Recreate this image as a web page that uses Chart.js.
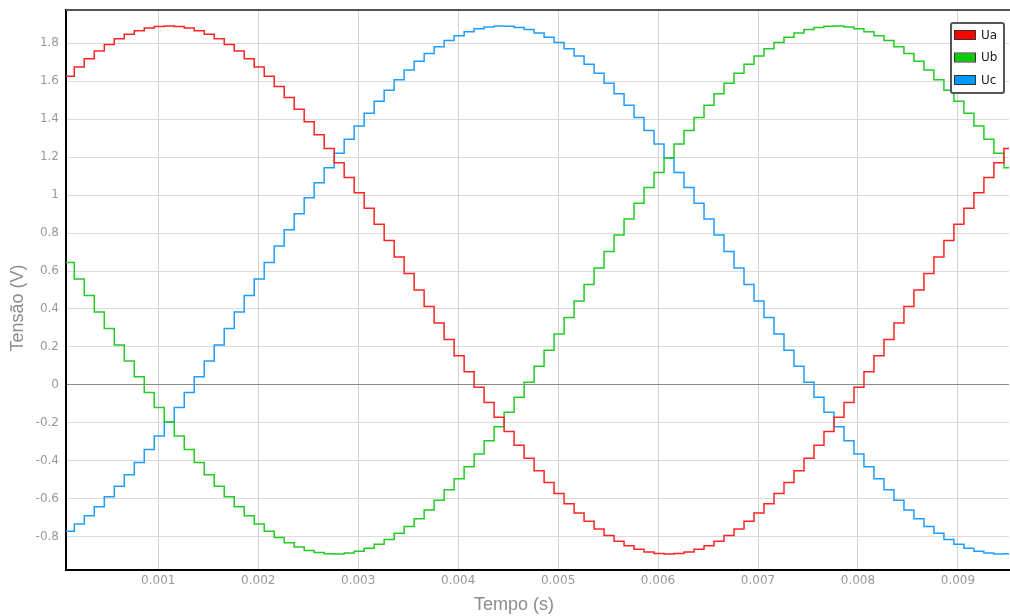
<!DOCTYPE html>
<html>
<head>
<meta charset="utf-8">
<script src="https://cdn.jsdelivr.net/npm/chart.js@4.4.1/dist/chart.umd.min.js"></script>
<style>
  html, body { margin: 0; padding: 0; background: #fff; }
  #wrap { width: 1010px; height: 616px; }
</style>
</head>
<body>
<div id="wrap"><canvas id="voltageChart" width="1010" height="616"></canvas></div>
<script>
// sample times (s), one per step
const times = [
  0.00006, 0.00016, 0.00026, 0.00036, 0.00046, 0.00056, 0.00066, 0.00076, 0.00086, 0.00096,
  0.00106, 0.00116, 0.00126, 0.00136, 0.00146, 0.00156, 0.00166, 0.00176, 0.00186, 0.00196,
  0.00206, 0.00216, 0.00226, 0.00236, 0.00246, 0.00256, 0.00266, 0.00276, 0.00286, 0.00296,
  0.00306, 0.00316, 0.00326, 0.00336, 0.00346, 0.00356, 0.00366, 0.00376, 0.00386, 0.00396,
  0.00406, 0.00416, 0.00426, 0.00436, 0.00446, 0.00456, 0.00466, 0.00476, 0.00486, 0.00496,
  0.00506, 0.00516, 0.00526, 0.00536, 0.00546, 0.00556, 0.00566, 0.00576, 0.00586, 0.00596,
  0.00606, 0.00616, 0.00626, 0.00636, 0.00646, 0.00656, 0.00666, 0.00676, 0.00686, 0.00696,
  0.00706, 0.00716, 0.00726, 0.00736, 0.00746, 0.00756, 0.00766, 0.00776, 0.00786, 0.00796,
  0.00806, 0.00816, 0.00826, 0.00836, 0.00846, 0.00856, 0.00866, 0.00876, 0.00886, 0.00896,
  0.00906, 0.00916, 0.00926, 0.00936, 0.00946, 0.00956
];

const ua = [
  1.625, 1.674, 1.718, 1.758, 1.792, 1.822, 1.846, 1.865, 1.879, 1.887,
  1.890, 1.887, 1.879, 1.865, 1.846, 1.822, 1.792, 1.758, 1.718, 1.674,
  1.625, 1.571, 1.513, 1.452, 1.386, 1.317, 1.245, 1.170, 1.092, 1.012,
  0.930, 0.846, 0.760, 0.674, 0.587, 0.500, 0.413, 0.326, 0.240, 0.154,
  0.070, -0.012, -0.092, -0.170, -0.245, -0.317, -0.386, -0.452, -0.513, -0.571,
  -0.625, -0.674, -0.718, -0.758, -0.792, -0.822, -0.846, -0.865, -0.879, -0.887,
  -0.890, -0.887, -0.879, -0.865, -0.846, -0.822, -0.792, -0.758, -0.718, -0.674,
  -0.625, -0.571, -0.513, -0.452, -0.386, -0.317, -0.245, -0.170, -0.092, -0.012,
  0.070, 0.154, 0.240, 0.326, 0.413, 0.500, 0.587, 0.674, 0.760, 0.846,
  0.930, 1.012, 1.092, 1.170, 1.245, 1.317
];

const ub = [
  0.645, 0.558, 0.471, 0.384, 0.297, 0.211, 0.126, 0.043, -0.039, -0.118,
  -0.195, -0.269, -0.340, -0.408, -0.473, -0.533, -0.589, -0.641, -0.689, -0.732,
  -0.770, -0.803, -0.831, -0.853, -0.871, -0.882, -0.889, -0.890, -0.885, -0.875,
  -0.860, -0.839, -0.813, -0.781, -0.745, -0.704, -0.658, -0.607, -0.552, -0.493,
  -0.430, -0.363, -0.293, -0.220, -0.144, -0.065, 0.015, 0.098, 0.183, 0.268,
  0.355, 0.442, 0.529, 0.616, 0.703, 0.789, 0.874, 0.957, 1.039, 1.118,
  1.195, 1.269, 1.340, 1.408, 1.473, 1.533, 1.589, 1.641, 1.689, 1.732,
  1.770, 1.803, 1.831, 1.853, 1.871, 1.882, 1.889, 1.890, 1.885, 1.875,
  1.860, 1.839, 1.813, 1.781, 1.745, 1.704, 1.658, 1.607, 1.552, 1.493,
  1.430, 1.363, 1.293, 1.220, 1.144, 1.065
];

const uc = [
  -0.770, -0.732, -0.689, -0.641, -0.589, -0.533, -0.473, -0.408, -0.340, -0.269,
  -0.195, -0.118, -0.039, 0.043, 0.126, 0.211, 0.297, 0.384, 0.471, 0.558,
  0.645, 0.732, 0.817, 0.902, 0.985, 1.065, 1.144, 1.220, 1.293, 1.363,
  1.430, 1.493, 1.552, 1.607, 1.658, 1.704, 1.745, 1.781, 1.813, 1.839,
  1.860, 1.875, 1.885, 1.890, 1.889, 1.882, 1.871, 1.853, 1.831, 1.803,
  1.770, 1.732, 1.689, 1.641, 1.589, 1.533, 1.473, 1.408, 1.340, 1.269,
  1.195, 1.118, 1.039, 0.957, 0.874, 0.789, 0.703, 0.616, 0.529, 0.442,
  0.355, 0.268, 0.183, 0.098, 0.015, -0.065, -0.144, -0.220, -0.293, -0.363,
  -0.430, -0.493, -0.552, -0.607, -0.658, -0.704, -0.745, -0.781, -0.813, -0.839,
  -0.860, -0.875, -0.885, -0.890, -0.889, -0.882
];

const seriesNames = ['Ua', 'Ub', 'Uc'];
const xTicks = [0.001, 0.002, 0.003, 0.004, 0.005, 0.006, 0.007, 0.008, 0.009];
const yTicks = [-0.8, -0.6, -0.4, -0.2, 0, 0.2, 0.4, 0.6, 0.8, 1, 1.2, 1.4, 1.6, 1.8];
const xRange = [0.000077, 0.009511];
const yRange = [-0.974, 1.974];
const xTitle = 'Tempo (s)';
const yTitle = 'Tensão (V)';

const toPoints = vals => times.map((t, i) => ({ x: t, y: vals[i] }));

const lineColors = ['#ff2424', '#22cc22', '#1f9dff'];
const swatchColors = ['#ff0000', '#00cc00', '#0099ff'];

// top frame line, axis titles and the boxed legend inside the plot
const decorations = {
  id: 'decorations',
  afterDraw(chart) {
    const { ctx, chartArea } = chart;
    ctx.save();

    ctx.strokeStyle = '#555';
    ctx.lineWidth = 2;
    ctx.beginPath();
    ctx.moveTo(chartArea.left, chartArea.top);
    ctx.lineTo(chart.width, chartArea.top);
    ctx.stroke();

    ctx.fillStyle = '#8c8c8c';
    ctx.font = '18px "Liberation Sans", Arial, sans-serif';
    ctx.textAlign = 'center';
    ctx.textBaseline = 'middle';
    ctx.fillText(xTitle, 514, 605);
    ctx.save();
    ctx.translate(18, 308);
    ctx.rotate(-Math.PI / 2);
    ctx.fillText(yTitle, 0, 0);
    ctx.restore();

    // legend
    ctx.fillStyle = '#fff';
    ctx.strokeStyle = '#555';
    ctx.lineWidth = 2;
    ctx.beginPath();
    ctx.roundRect(951, 23, 53, 70, 2);
    ctx.fill();
    ctx.stroke();
    ctx.font = '12px "DejaVu Sans", sans-serif';
    ctx.textAlign = 'left';
    chart.data.datasets.forEach((ds, i) => {
      const cy = 35 + i * 22.5;
      ctx.fillStyle = swatchColors[i];
      ctx.fillRect(954, cy - 4, 21, 8);
      ctx.strokeStyle = '#333';
      ctx.lineWidth = 1;
      ctx.strokeRect(954.5, cy - 4.5, 21, 9);
      ctx.fillStyle = '#222';
      ctx.fillText(ds.label, 981, cy + 0.5);
    });
    ctx.restore();
  }
};

Chart.defaults.font.family = '"DejaVu Sans", sans-serif';
Chart.defaults.font.size = 12;
Chart.defaults.color = '#999';

new Chart(document.getElementById('voltageChart'), {
  type: 'line',
  data: {
    datasets: [ua, ub, uc].map((vals, i) => ({
      label: seriesNames[i],
      data: toPoints(vals),
      borderColor: lineColors[i],
      backgroundColor: swatchColors[i],
      borderWidth: 1.5,
      stepped: true,
      pointRadius: 0,
      fill: false
    }))
  },
  options: {
    responsive: false,
    animation: false,
    layout: { padding: { top: 10, right: 1, left: 0, bottom: 0 } },
    plugins: {
      legend: { display: false },
      tooltip: { enabled: false }
    },
    scales: {
      x: {
        type: 'linear',
        min: xRange[0],
        max: xRange[1],
        afterBuildTicks: axis => { axis.ticks = xTicks.map(v => ({ value: v })); },
        afterFit: axis => {
          axis.height = 46;
          axis.paddingLeft = 0;
          axis.paddingRight = 0;
        },
        ticks: {
          autoSkip: false,
          maxRotation: 0,
          padding: 4,
          callback: v => String(v)
        },
        grid: { color: '#d2d2d2', drawTicks: false },
        border: { color: '#000', width: 2 }
      },
      y: {
        type: 'linear',
        min: yRange[0],
        max: yRange[1],
        afterBuildTicks: axis => { axis.ticks = yTicks.map(v => ({ value: v })); },
        afterFit: axis => {
          axis.width = 66;
          axis.paddingTop = 0;
          axis.paddingBottom = 0;
        },
        ticks: {
          padding: 7,
          callback: v => String(v)
        },
        grid: {
          drawTicks: false,
          color: c => (c.tick && c.tick.value === 0 ? '#8a8a8a' : '#dcdcdc')
        },
        border: { color: '#000', width: 2 }
      }
    }
  },
  plugins: [decorations]
});
</script>
</body>
</html>
